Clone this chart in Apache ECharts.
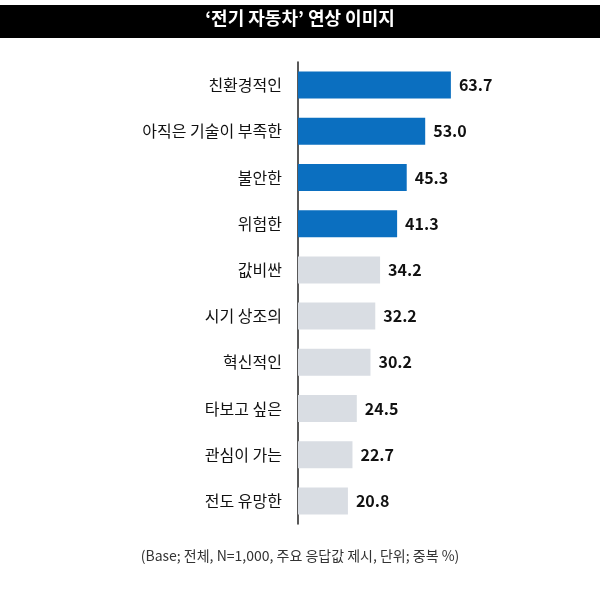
<!DOCTYPE html>
<html>
<head>
<meta charset="utf-8">
<script src="https://cdn.jsdelivr.net/npm/echarts@6/dist/echarts.min.js"></script>
<style>
html, body { margin: 0; padding: 0; background: #fff; }
#main { width: 600px; height: 596px; }
</style>
</head>
<body>
<div id="main"></div>
<script>
var categories = ['친환경적인', '아직은 기술이 부족한', '불안한', '위험한', '값비싼', '시기 상조의', '혁신적인', '타보고 싶은', '관심이 가는', '전도 유망한'];
var values = [63.7, 53.0, 45.3, 41.3, 34.2, 32.2, 30.2, 24.5, 22.7, 20.8];
var highlightCount = 4;

var myChart = echarts.init(document.getElementById('main'));
var font = '"Noto Sans CJK KR", "Noto Sans", sans-serif';

option = {
    animation: false,
    graphic: [
        { type: 'rect', shape: { x: 0, y: 5, width: 600, height: 33 }, style: { fill: '#000' } },
        { type: 'text', left: 'center', top: 9, style: { text: '‘전기 자동차’ 연상 이미지', fill: '#fff', font: 'bold 18px ' + font } },
        { type: 'text', left: 'center', top: 549, style: { text: '(Base; 전체, N=1,000, 주요 응답값 제시, 단위; 중복 %)', fill: '#333', font: '14px ' + font } }
    ],
    grid: { left: 298, right: 62, top: 62, bottom: 72 },
    xAxis: { type: 'value', min: 0, max: 100, show: false },
    yAxis: {
        type: 'category',
        data: categories,
        inverse: true,
        axisLine: { show: true, lineStyle: { color: '#222', width: 1.5 } },
        axisTick: { show: false },
        axisLabel: { color: '#111', fontSize: 16, fontFamily: font, margin: 16 }
    },
    series: [{
        type: 'bar',
        barWidth: 27,
        data: values.map(function (v, i) {
            return { value: v, itemStyle: { color: i < highlightCount ? '#0b6fc0' : '#d9dde3' } };
        }),
        label: {
            show: true,
            position: 'right',
            distance: 8,
            color: '#111',
            fontSize: 16,
            fontWeight: 'bold',
            fontFamily: font,
            formatter: function (p) { return p.value.toFixed(1); }
        }
    }]
};

option && myChart.setOption(option);
</script>
</body>
</html>
